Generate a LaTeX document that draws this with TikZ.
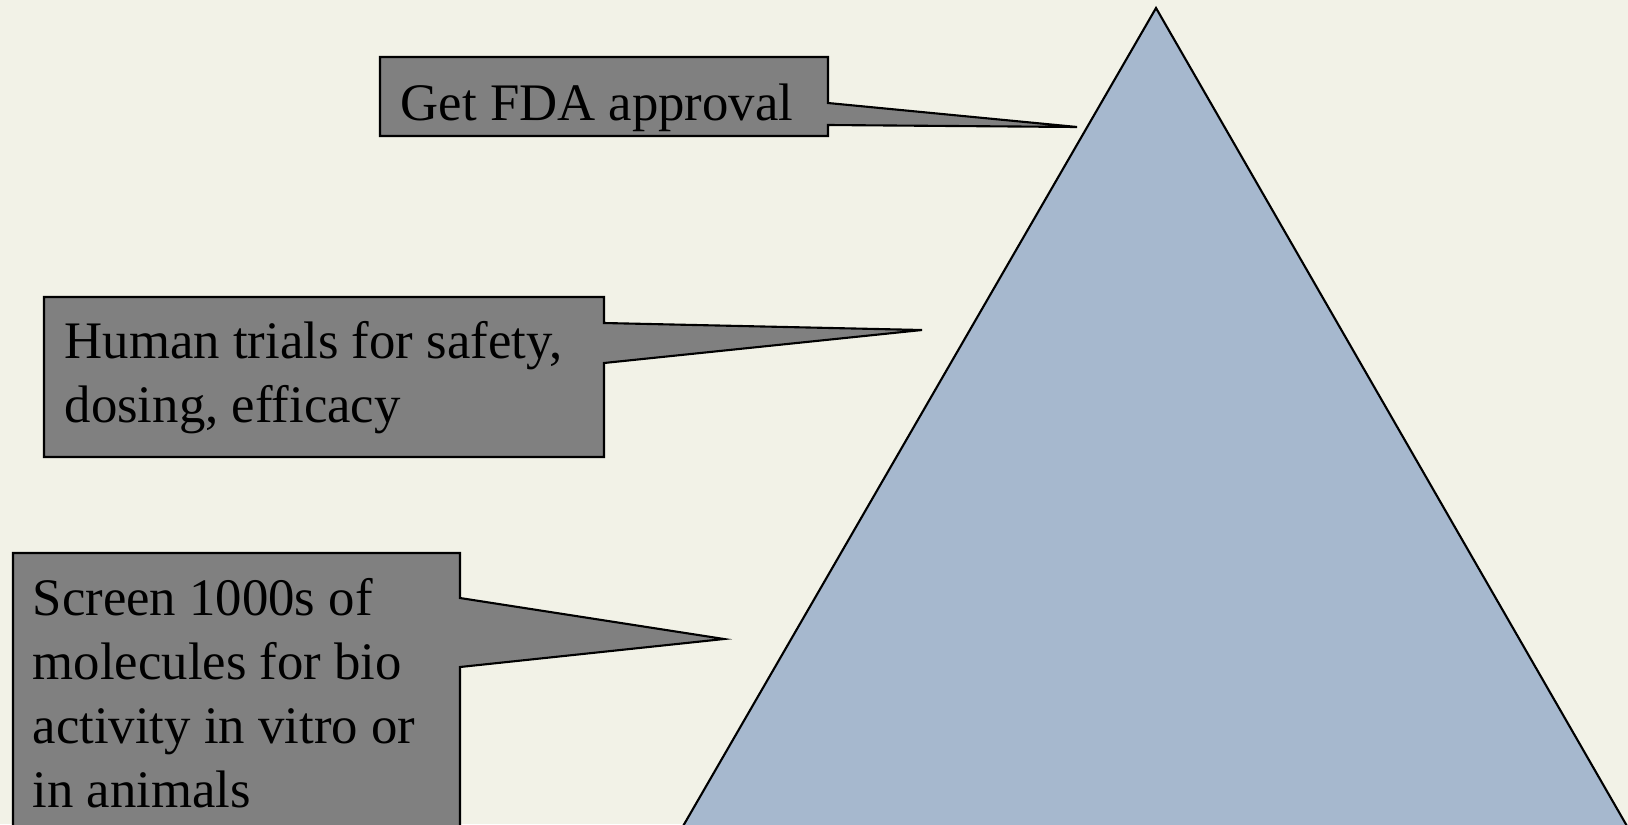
\documentclass[tikz,border=0pt]{standalone}
\usepackage{fontspec}
\setmainfont{Liberation Serif}
\definecolor{paper}{RGB}{242,242,231}
\definecolor{peak}{RGB}{166,184,206}
\definecolor{tag}{RGB}{128,128,128}
\tikzset{
  calloutbox/.style={draw=black,fill=tag,line width=0.6pt,line join=miter},
  calltext/.style={anchor=base west,inner sep=0pt,align=left,font=\fontsize{15}{18.2}\selectfont}
}
\begin{document}
\begin{tikzpicture}[x=0.01cm,y=-0.01cm]
\useasboundingbox (0,0) rectangle (1628,824);
\clip (0,0) rectangle (1628,824);
\fill[paper] (0,0) rectangle (1628,824);
% the pyramid
\draw[fill=peak,line width=0.6pt] (1156,8) -- (675,840) -- (1635,840) -- cycle;
% callouts (text nodes sit on the baseline of their last line)
\draw[calloutbox] (380,57) -- (828,57) -- (828,103) -- (1077,127) -- (828,125) -- (828,136) -- (380,136) -- cycle;
\node[calltext] (fda) at (400,120) {Get FDA approval};
\draw[calloutbox] (44,297) -- (604,297) -- (604,323) -- (922,330) -- (604,363) -- (604,457) -- (44,457) -- cycle;
\node[calltext] (trials) at (64,422) {Human trials for safety,\\dosing, efficacy};
\draw[calloutbox] (13,553) -- (460,553) -- (460,598) -- (724,639) -- (460,667) -- (460,850) -- (13,850) -- cycle;
\node[calltext] (screen) at (32,807) {Screen 1000s of\\molecules for bio\\activity in vitro or\\in animals};
\end{tikzpicture}
\end{document}
